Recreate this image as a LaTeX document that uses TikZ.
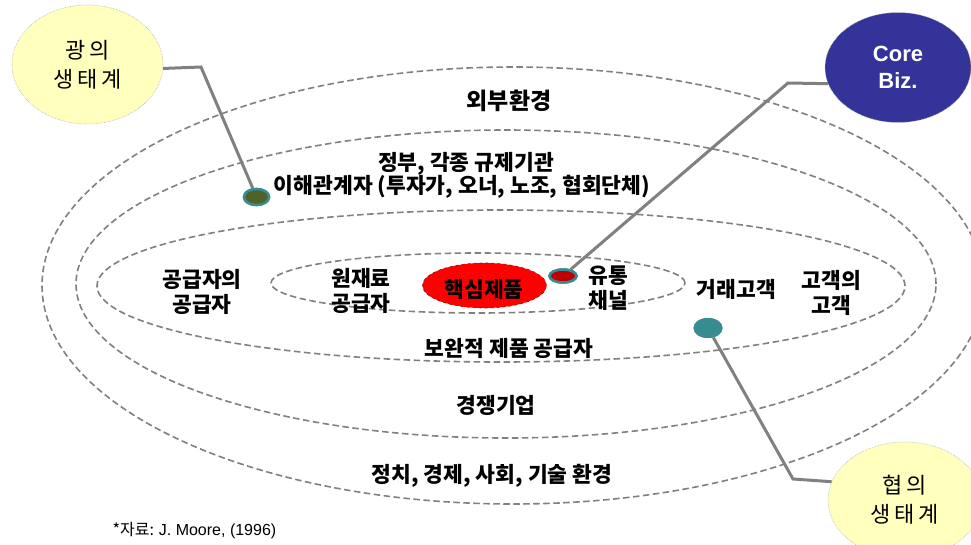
\documentclass[tikz,border=0pt]{standalone}
\usepackage{fontspec}
\setmainfont{Noto Sans CJK KR}[BoldFont={Noto Sans CJK KR Black}]
\newfontfamily\latinsans{Liberation Sans}
\usetikzlibrary{shapes.geometric}

\definecolor{ringgray}{RGB}{128,128,128}
\definecolor{conngray}{RGB}{128,128,128}
\definecolor{callyellow}{RGB}{255,255,190}
\definecolor{corblue}{RGB}{51,51,153}
\definecolor{tealc}{RGB}{55,140,145}
\definecolor{olivec}{RGB}{79,98,40}
\definecolor{dotred}{RGB}{192,0,0}
\definecolor{corered}{RGB}{255,0,0}

\begin{document}
\begin{tikzpicture}[x=1pt,y=-1pt,
  ring/.style={draw=ringgray, line width=1.6pt, dash pattern=on 6.5pt off 3.5pt},
  conn/.style={draw=conngray, line width=3pt},
  lbl/.style={font=\fontsize{21.5}{25}\selectfont\bfseries, align=center, inner sep=0},
  callout/.style={ellipse, fill=callyellow, draw=gray!60, densely dotted, line width=0.6pt,
    inner sep=0, align=center, font=\fontsize{22}{29}\selectfont},
  dotnode/.style={ellipse, inner sep=0},
]
\useasboundingbox (0,0) rectangle (971,544);
\fill[white] (0,0) rectangle (971,544);

% dashed rings
\draw[ring] (513,285.5) ellipse [x radius=471pt, y radius=218.5pt];
\draw[ring] (506,284) ellipse [x radius=430pt, y radius=154pt];
\draw[ring] (501,286) ellipse [x radius=404pt, y radius=76pt];
\draw[ring] (478,283) ellipse [x radius=207pt, y radius=30pt];

% core product
\node[ellipse, fill=corered, draw=red!70!black, dashed, line width=0.6pt,
      minimum width=124pt, minimum height=45pt, inner sep=0] (core) at (484.5,285.5) {};
\node[lbl] (coretxt) at (484,289) {핵심제품};

% marker dots
\node[dotnode, fill=olivec, draw=tealc, line width=2.5pt, minimum width=25pt, minimum height=16pt] (gdot) at (256.5,197) {};
\node[dotnode, fill=dotred, draw=tealc, line width=2.5pt, minimum width=27pt, minimum height=13pt] (rdot) at (563,276) {};
\node[dotnode, fill=tealc, minimum width=29pt, minimum height=20pt] (tdot) at (708,328) {};

% callouts
\node[callout, minimum width=151pt, minimum height=119pt] (gw) at (87.5,64.5) {광\,의\\생\,태\,계};
\node[ellipse, fill=corblue, draw=gray!50, densely dotted, line width=0.6pt, inner sep=0,
      minimum width=146pt, minimum height=110pt, align=center, text=white,
      font=\latinsans\fontsize{22}{27}\selectfont\bfseries] (cb) at (898,67.5) {Core\\Biz.};
\node[callout, minimum width=154pt, minimum height=116pt] (hw) at (905,500) {협\,의\\생\,태\,계};

% connectors
\coordinate (gbend) at (201,67);
\coordinate (cbend) at (788,83);
\coordinate (hbend) at (793,479);
\draw[conn] (gw.357) -- (gbend) -- (gdot);
\draw[conn] (cb.193) -- (cbend) -- (rdot);
\draw[conn] (tdot) -- (hbend) -- (hw.166);
% redraw dots on top
\node[dotnode, fill=olivec, draw=tealc, line width=2.5pt, minimum width=25pt, minimum height=16pt] (gdot2) at (gdot) {};
\node[dotnode, fill=dotred, draw=tealc, line width=2.5pt, minimum width=27pt, minimum height=13pt] (rdot2) at (rdot) {};
\node[dotnode, fill=tealc, minimum width=29pt, minimum height=20pt] (tdot2) at (tdot) {};

% labels
\node[lbl, font=\fontsize{23}{26}\selectfont\bfseries] (ext) at (509,101) {외부환경};
\node[lbl] (gov) at (466,164) {정부, 각종 규제기관};
\node[lbl] (stake) at (462,187) {이해관계자 (투자가, 오너, 노조, 협회단체)};
\node[lbl] (supsup) at (202,291.5) {공급자의\\공급자};
\node[lbl] (rawsup) at (361,291) {원재료\\공급자};
\node[lbl] (chan) at (608.5,288) {유통\\채널};
\node[lbl] (cust) at (736.5,289) {거래고객};
\node[lbl] (custcust) at (831.5,292.5) {고객의\\고객};
\node[lbl] (comp) at (509,348) {보완적 제품 공급자};
\node[lbl] (rival) at (496,405) {경쟁기업};
\node[lbl] (pest) at (492,476) {정치, 경제, 사회, 기술 환경};
\node[inner sep=0, font=\fontsize{16}{18}\selectfont] (src) at (194.5,531) {*자료: {\latinsans J. Moore, (1996)}};
\end{tikzpicture}
\end{document}
